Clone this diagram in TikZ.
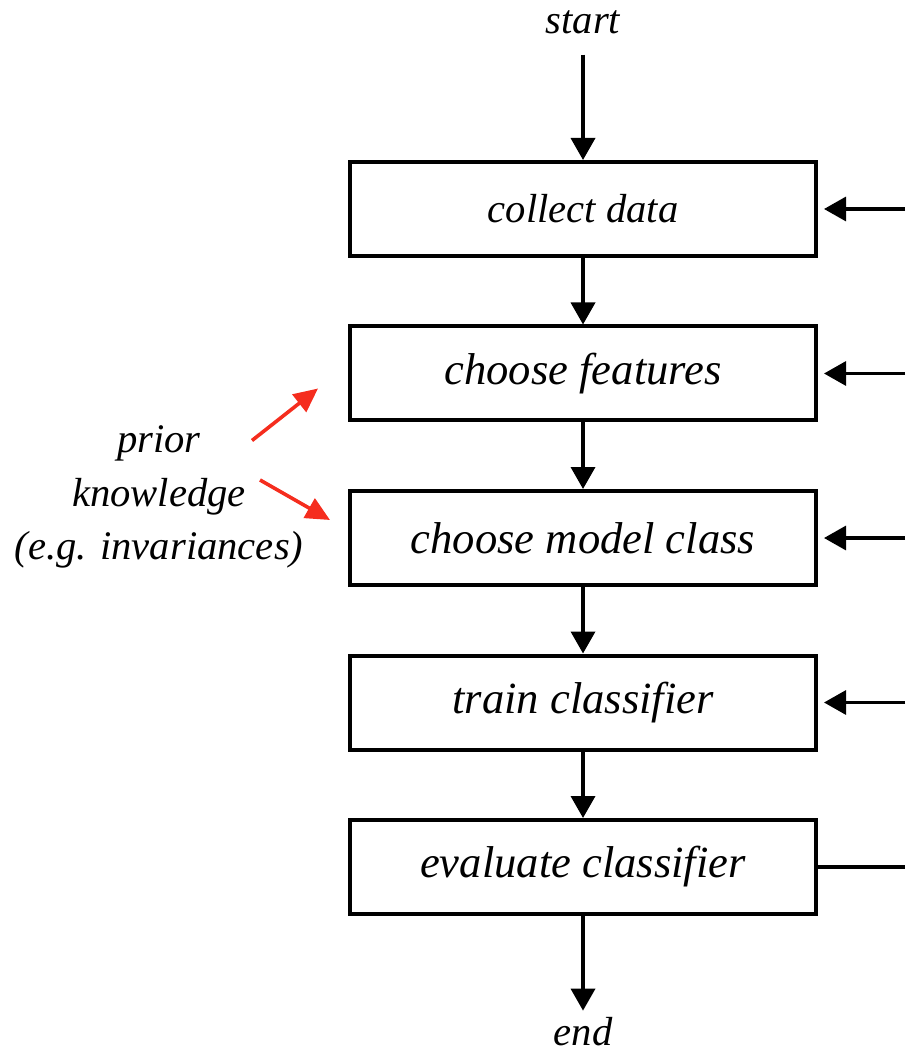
\documentclass[tikz,border=0pt]{standalone}
\usepackage{fontspec}
\setmainfont{Liberation Serif}
\usepackage{xcolor}
\usetikzlibrary{arrows.meta, positioning}
\definecolor{priorred}{RGB}{245,45,30}

\begin{document}
\begin{tikzpicture}[x=1pt,y=1pt,on grid,node distance=82.25pt,
        >={Triangle[length=11pt,width=12pt]},
        every node/.style={font=\itshape\fontsize{22.3}{26}\selectfont},
        small/.style={font=\itshape\fontsize{20.3}{26.75}\selectfont},
        stage/.style={draw,line width=2pt,minimum width=233pt,minimum height=47pt,inner sep=0pt},
        flow/.style={line width=1.8pt},
        back/.style={line width=1.6pt},
        prior arrow/.style={draw=priorred,line width=1.8pt,-{Triangle[length=12pt,width=11pt]}}]

        \useasboundingbox (0,0) rectangle (452.5,-526);

        % the pipeline, top to bottom
        \node[stage,small] (collect) at (291.5,-104.5) {collect data};
        \node[stage] (features) [below=of collect] {choose features};
        \node[stage] (model) [below=of features] {choose model class};
        \node[stage] (train) [below=of model] {train classifier};
        \node[stage] (evaluate) [below=of train] {evaluate classifier};

        \node[small] (start) [above=93.5pt of collect] {start};
        \node[small] (finish) [below=82.5pt of evaluate] {end};

        \path[->,flow] (start) edge[shorten <=7pt] (collect)
                (collect) edge (features)
                (features) edge (model)
                (model) edge (train)
                (train) edge (evaluate)
                (evaluate) edge (finish);

        % feedback from the evaluation
        \coordinate[right=43.5pt of collect.east] (back1);
        \coordinate[right=43.5pt of features.east] (back2);
        \coordinate[right=43.5pt of model.east] (back3);
        \coordinate[right=43.5pt of train.east] (back4);
        \coordinate[right=43.5pt of evaluate.east] (back5);

        \path[->,back] (back1) edge[shorten >=3pt] (collect)
                (back2) edge[shorten >=3pt] (features)
                (back3) edge[shorten >=3pt] (model)
                (back4) edge[shorten >=3pt] (train);
        \draw[back] (evaluate) -- (back5);

        % prior knowledge feeding in
        \node[small,align=center] (prior) [left=94.5pt of model.west,anchor=center,yshift=20.5pt]
                {prior\\knowledge\\(e.g. invariances)};

        \coordinate[below left=33.5pt and 48pt of features.west] (tail1);
        \coordinate[below left=7.5pt and 15pt of features.west] (tip1);
        \coordinate[above left=29pt and 44pt of model.west] (tail2);
        \coordinate[above left=9pt and 9pt of model.west] (tip2);

        \draw[prior arrow] (tail1) -- (tip1);
        \draw[prior arrow] (tail2) -- (tip2);
\end{tikzpicture}
\end{document}
